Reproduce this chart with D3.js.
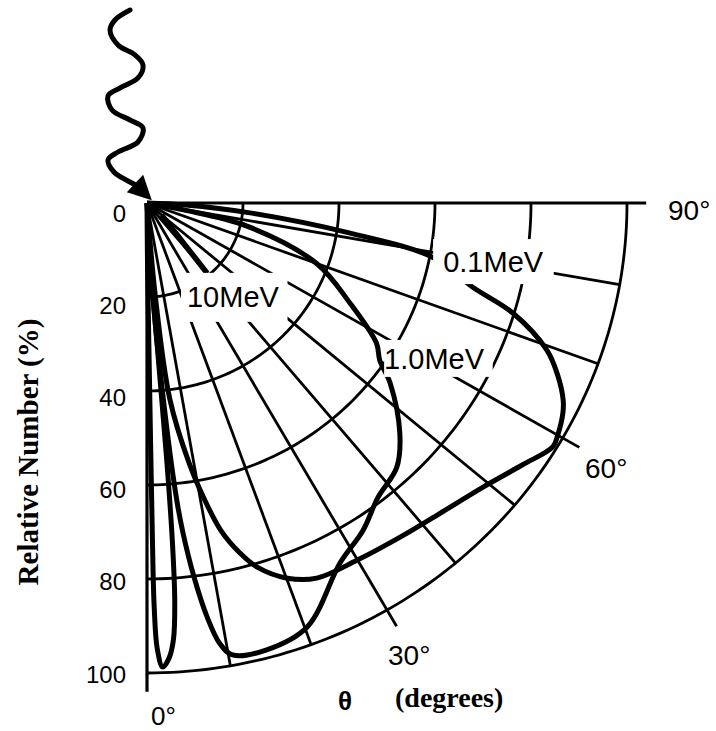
<!DOCTYPE html>
<html>
<head>
<meta charset="utf-8">
<script src="https://cdn.jsdelivr.net/npm/d3@7/dist/d3.min.js"></script>
<style>
  body { margin: 0; background: #fff; }
  svg { display: block; }
</style>
</head>
<body>
<svg width="716" height="731"></svg>
<script>
// grid
const radii = [20, 40, 60, 80, 100];
const spokeAngles = [0, 10, 20, 30, 40, 50, 60, 70, 80, 90];
const longSpokes = [0, 30, 60, 90];
const tickValues = [0, 20, 40, 60, 80, 100];
const tickLabels = ['0', '20', '40', '60', '80', '100'];
const angleLabels = ['0°', '30°', '60°', '90°'];

// lobes: [theta in degrees, relative number %]
const lobe10MeV = [[0, 0], [0.5, 15], [0.8, 40], [0.9, 70], [1.0, 86], [1.3, 95], [1.9, 98.8],
  [2.7, 97], [3.4, 93], [3.9, 85], [4.2, 72], [4.3, 55], [4.1, 35], [3.4, 15], [0, 0]];
const lobe1MeV = [[0, 0], [3.5, 20], [4.8, 45], [5.6, 63.5], [6.1, 70.6], [7, 80], [8.1, 89],
  [9.2, 95], [10.5, 97.8], [14.7, 98.3], [20.3, 96.2], [27.7, 86.5], [32.9, 82.9], [37.5, 79],
  [42.8, 76.6], [47.1, 71.9], [52.9, 63.5], [55.4, 58.9], [58, 56.4], [63.3, 47.3], [70, 37.6],
  [76.7, 21.4], [79, 8], [0, 0]];
const lobe01MeV = [[0, 0], [5, 20], [6.5, 42], [9, 56], [10.7, 64], [12.5, 71.5], [14.6, 77],
  [16.5, 80.8], [20.1, 85], [23.9, 87.3], [29.9, 87.7], [36.5, 88.5], [42.7, 89.9], [49.2, 92.5],
  [54.5, 96], [58.5, 99.2], [60, 98.8], [62.7, 97.5], [64.2, 96.3], [66.8, 93.1], [69.4, 89],
  [72.9, 79.8], [75.2, 70.2], [79, 60.7], [81.4, 42.8], [84.4, 21.6], [87, 8], [0, 0]];
const energyLabels = ['10MeV', '1.0MeV', '0.1MeV'];

// incoming photon (x, y in plot units, y negative = above the origin)
const photon = [[-3.54, -41.06], [-6.67, -38.94], [-7.71, -36.81], [-6.04, -33.62], [-2.5, -31.49],
  [-0.83, -29.36], [-1.88, -26.6], [-5.63, -24.47], [-8.13, -22.77], [-7.29, -19.79],
  [-3.54, -17.66], [-0.83, -15.96], [-1.88, -12.98], [-6.04, -10.85], [-8.13, -9.15],
  [-6.88, -6.6], [-3.96, -4.68], [-1.88, -3.62]];
const arrowHead = [[1.0, -0.6], [-4.2, -2.3], [-0.8, -6.0]];

const svg = d3.select('svg');
const x = d3.scaleLinear().domain([0, 100]).range([147, 627]);
const y = d3.scaleLinear().domain([0, 100]).range([203, 673]);
const labelY = d3.scaleLinear().domain([0, 100]).range([213, 674]);
const rad = d => d * Math.PI / 180;
const pt = ([th, r]) => [x(r * Math.sin(rad(th))), y(r * Math.cos(rad(th)))];
const px = ([u, v]) => [x(u), y(v)];

const smooth = d3.line().curve(d3.curveCatmullRom.alpha(0.5));
const straight = d3.line();

// arcs
const grid = svg.append('g').attr('fill', 'none').attr('stroke', '#000').attr('stroke-width', 2.8);
radii.forEach(r => {
  grid.append('path').attr('d', straight(d3.range(0, 90.5, 1).map(a => pt([a, r]))));
});
// spokes
spokeAngles.forEach(a => {
  const end = longSpokes.includes(a) ? 104 : 100;
  grid.append('path')
    .attr('stroke-width', a === 0 || a === 90 ? 3.2 : 2.8)
    .attr('d', straight([pt([a, 0]), pt([a, end])]));
});

// lobes
const lobes = svg.append('g').attr('fill', 'none').attr('stroke', '#000')
  .attr('stroke-width', 5).attr('stroke-linejoin', 'round');
[lobe10MeV, lobe1MeV, lobe01MeV].forEach(l => {
  lobes.append('path').attr('d', smooth(l.map(pt)));
});
// leader to the 10MeV label
lobes.append('path').attr('stroke-width', 5.5)
  .attr('d', straight([[50, 4], [40, 19.5]].map(pt)));

// photon
svg.append('path').attr('fill', 'none').attr('stroke', '#000').attr('stroke-width', 5)
  .attr('stroke-linecap', 'round').attr('d', smooth(photon.map(px)));
svg.append('path').attr('fill', '#000').attr('d', straight(arrowHead.map(px)) + 'Z');

// energy labels with white knock-out behind (pad: top, right, bottom, left)
const sans = "'Liberation Sans', Arial, Helvetica, sans-serif";
const energyPos = [
  { at: [8.33, 22.1], pad: [13, 8, 15, 6] },
  { at: [49.4, 35.3], pad: [8, 8, 8, 0] },
  { at: [61.7, 14.7], pad: [12, 10, 12, 10] }
];
energyLabels.forEach((t, i) => {
  const p = px(energyPos[i].at);
  const g = svg.append('g');
  const txt = g.append('text').attr('x', p[0]).attr('y', p[1])
    .attr('font-family', sans).attr('font-size', 29).attr('fill', '#000').text(t);
  const b = txt.node().getBBox();
  const [pt_, pr, pb, pl] = energyPos[i].pad;
  const top = p[1] - 21 - pt_;
  g.insert('rect', 'text').attr('x', b.x - pl).attr('y', top)
    .attr('width', b.width + pl + pr).attr('height', p[1] + pb - top).attr('fill', '#fff');
});

// radial tick labels
svg.append('g').selectAll('text').data(tickValues).join('text')
  .attr('x', x(0) - 21).attr('y', d => labelY(d))
  .attr('dy', '0.36em').attr('text-anchor', 'end')
  .attr('font-family', sans).attr('font-size', 24).text((d, i) => tickLabels[i]);

// angle labels
const anglePos = [[151, 725], [388, 665], [585, 478], [668, 220]];
angleLabels.forEach((t, i) => {
  svg.append('text').attr('x', anglePos[i][0]).attr('y', anglePos[i][1])
    .attr('font-family', sans).attr('font-size', i === 0 ? 26 : 28).text(t);
});

// axis titles
svg.append('text').attr('x', 345).attr('y', 710).attr('text-anchor', 'middle')
  .attr('font-family', sans).attr('font-weight', 'bold').attr('font-size', 26).text('θ');
svg.append('text').attr('x', 395).attr('y', 707)
  .attr('font-family', "'Liberation Serif', 'Times New Roman', serif").attr('font-weight', 'bold')
  .attr('font-size', 28).text('(degrees)');
svg.append('text').attr('transform', 'translate(38,452) rotate(-90)').attr('text-anchor', 'middle')
  .attr('font-family', "'Liberation Serif', 'Times New Roman', serif").attr('font-weight', 'bold')
  .attr('font-size', 29).text('Relative Number (%)');
</script>
</body>
</html>
